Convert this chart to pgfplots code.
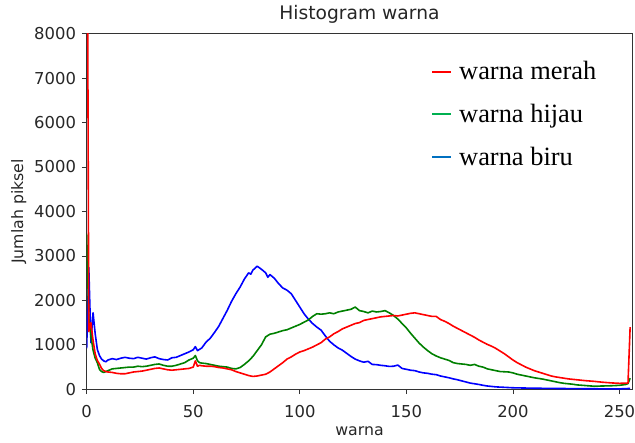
\documentclass[border=0pt]{standalone}
\usepackage{fontspec}
\setmainfont{DejaVu Sans}
\newfontfamily\legendfont{Liberation Serif}
\usepackage{pgfplots}
\pgfplotsset{compat=1.18}
\definecolor{pred}{RGB}{255,0,0}
\definecolor{pgreen}{RGB}{0,128,0}
\definecolor{pblue}{RGB}{0,0,255}
\definecolor{lred}{RGB}{255,0,0}
\definecolor{lgreen}{RGB}{0,176,80}
\definecolor{lblue}{RGB}{0,112,192}
\begin{document}
\begin{tikzpicture}
\useasboundingbox (-65pt,-39.75pt) rectangle (411.25pt,292pt);
\begin{axis}[
  at={(0,0)}, anchor=south west,
  scale only axis, width=409.2pt, height=266.8pt,
  xmin=0, xmax=256, ymin=0, ymax=8000,
  xtick={0,50,100,150,200,250}, ytick={0,1000,2000,3000,4000,5000,6000,7000,8000},
  scaled ticks=false,
  /pgf/number format/1000 sep={},
  /pgf/number format/assume math mode=true,
  tick align=outside, xtick pos=bottom, ytick pos=left,
  major tick length=3.5pt,
  tick style={black!80, line width=0.6pt},
  axis line style={black!80, line width=0.6pt},
  ticklabel style={font=\fontsize{12.3}{14}\selectfont, text=black!85},
  xticklabel style={yshift=-5pt},
  yticklabel style={xshift=-1pt},
  label style={font=\fontsize{11.8}{13}\selectfont, text=black!85},
  ylabel style={yshift=-1pt},
  xlabel={warna}, ylabel={Jumlah piksel},
  title={Histogram warna},
  title style={font=\fontsize{14}{16}\selectfont, text=black!85, yshift=-1.5pt},
  legend cell align=left,
  legend style={at={(0.631,0.93)}, anchor=north west, draw=none, fill=none,
    font=\legendfont\fontsize{19.8}{22}\selectfont, row sep=12.75pt, inner sep=0pt,
    /tikz/every odd column/.append style={column sep=3.5pt}},
  legend image code/.code={\draw[#1, line width=1.5pt] (0pt,0pt) -- (14pt,0pt);},
  every axis plot/.append style={line width=1.2pt, line join=round},
]
\addplot[pblue, forget plot] coordinates {
(0,920)(1,2740)(2,1050)(3,1720)(4,1250)(5,900)(6,760)(7,680)(8,640)(9,620)(10,660)
(12,690)(14,670)(16,700)(18,720)(20,700)(22,690)(24,720)(26,700)(28,680)(30,710)
(32,730)(34,690)(36,670)(38,660)(40,710)(42,720)(44,760)(46,800)(48,840)(50,890)
(51,960)(52,870)(54,930)(56,1060)(58,1150)(60,1280)(62,1420)(64,1600)(66,1780)
(68,1980)(70,2150)(72,2300)(74,2480)(76,2620)(77,2590)(78,2680)(80,2770)(82,2700)(84,2620)
(85,2520)(86,2580)(88,2500)(90,2380)(92,2280)(94,2230)(96,2150)(98,2000)(100,1850)(102,1700)
(104,1580)(106,1480)(108,1400)(110,1330)(112,1200)(114,1080)(116,1000)(118,930)
(120,880)(122,810)(124,740)(126,680)(128,640)(130,610)(132,630)(134,560)(136,555)
(138,540)(140,530)(142,515)(144,520)(146,545)(148,470)(150,450)(152,430)(154,420)
(156,390)(158,370)(160,360)(162,340)(164,330)(166,300)(168,280)(170,260)(172,235)
(174,215)(176,190)(178,165)(180,140)(182,125)(184,110)(186,90)(188,75)(190,65)
(192,55)(194,50)(196,45)(198,40)(200,35)(205,30)(210,25)(220,20)(230,15)(240,12)
(250,10)(255,20)
};
\addplot[pgreen, forget plot] coordinates {
(0,3500)(1,1600)(2,1200)(3,880)(4,700)(5,600)(6,450)(7,400)(8,380)(9,400)(10,420)
(12,460)(14,470)(16,480)(18,490)(20,500)(22,500)(24,520)(26,510)(28,520)(30,540)
(32,560)(34,570)(36,540)(38,520)(40,520)(42,540)(44,570)(46,600)(48,660)(50,700)
(51,760)(52,640)(53,600)(54,590)(56,580)(58,560)(60,540)(62,520)(64,510)(66,500)
(68,470)(70,460)(72,490)(74,560)(76,640)(78,740)(80,870)(82,1000)(84,1180)(86,1240)
(88,1260)(90,1290)(92,1320)(94,1340)(96,1380)(98,1420)(100,1460)(102,1510)(104,1560)
(106,1640)(108,1700)(110,1690)(112,1700)(114,1720)(116,1700)(118,1740)(120,1760)
(122,1780)(124,1800)(126,1850)(128,1770)(130,1750)(132,1720)(134,1760)(136,1740)
(138,1750)(140,1770)(142,1720)(144,1660)(146,1580)(148,1480)(150,1380)(152,1260)
(154,1150)(156,1040)(158,950)(160,870)(162,800)(164,750)(166,710)(168,680)(170,650)
(172,600)(174,580)(176,570)(178,560)(180,540)(182,560)(184,520)(186,500)(188,460)
(190,440)(192,420)(194,400)(196,395)(198,390)(200,370)(202,340)(204,320)(206,300)
(208,280)(210,260)(212,245)(214,230)(216,210)(218,190)(220,170)(222,150)(224,135)
(226,125)(228,115)(230,100)(234,85)(238,70)(242,75)(246,80)(250,90)(253,110)(254,130)(255,250)
};
\addplot[pred, forget plot] coordinates {
(0,15000)(1,1300)(2,1500)(3,1100)(4,800)(5,650)(6,570)(7,470)(8,420)(9,400)(10,390)
(12,380)(14,360)(16,350)(18,350)(20,370)(22,390)(24,400)(26,410)(28,430)(30,450)
(32,470)(34,480)(36,460)(38,440)(40,430)(42,440)(44,450)(46,460)(48,470)(50,500)
(51,640)(52,520)(53,540)(54,530)(56,520)(58,520)(60,510)(62,490)(64,480)(66,460)
(68,440)(70,400)(72,370)(74,340)(76,310)(78,290)(80,300)(82,320)(84,340)(86,390)
(88,460)(90,530)(92,600)(94,680)(96,730)(98,790)(100,840)(102,870)(104,910)(106,950)
(108,1000)(110,1050)(112,1130)(114,1180)(116,1250)(118,1300)(120,1360)(122,1400)
(124,1440)(126,1480)(128,1500)(130,1550)(132,1570)(134,1590)(136,1610)(138,1630)
(140,1640)(142,1650)(144,1660)(146,1650)(148,1670)(150,1690)(152,1710)(154,1720)
(156,1700)(158,1680)(160,1660)(162,1640)(164,1640)(166,1570)(168,1530)(170,1480)
(172,1420)(174,1370)(176,1320)(178,1270)(180,1220)(182,1170)(184,1110)(186,1060)
(188,1010)(190,970)(192,920)(194,860)(196,800)(198,730)(200,660)(202,600)(204,550)
(206,500)(208,460)(210,420)(212,390)(214,360)(216,330)(218,300)(220,280)(222,265)
(224,250)(226,235)(228,225)(230,215)(234,195)(238,180)(242,160)(246,145)(250,135)
(254,140)(255,1400)
};
\addlegendimage{lred}
\addlegendentry{warna merah}
\addlegendimage{lgreen}
\addlegendentry{warna hijau}
\addlegendimage{lblue}
\addlegendentry{warna biru}
\end{axis}
\end{tikzpicture}
\end{document}
